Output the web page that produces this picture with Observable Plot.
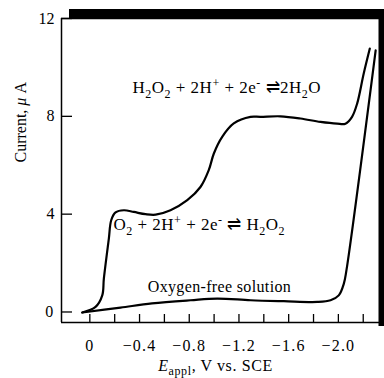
<!DOCTYPE html>
<html><head><meta charset="utf-8">
<script src="https://cdn.jsdelivr.net/npm/d3@7"></script>
<script src="https://cdn.jsdelivr.net/npm/@observablehq/plot@0.6"></script>
<style>
html,body{margin:0;padding:0;background:#fff;}
#chart svg{display:block;}
</style></head><body><div id="chart"></div>
<script>
// Oxygen-saturated solution (V vs. SCE, µA)
const o2E = [0.061, -0.046, -0.10, -0.113, -0.153, -0.172, -0.207, -0.274, -0.354, -0.448, -0.53, -0.649, -0.784, -0.89, -0.957, -0.998, -1.065, -1.158, -1.293, -1.373, -1.534, -1.695, -1.856, -1.99, -2.057, -2.11, -2.151, -2.204, -2.253];
const o2I = [-0.02, 0.21, 0.68, 1.37, 3.0, 3.75, 4.07, 4.16, 4.09, 4.0, 3.98, 4.16, 4.57, 5.11, 5.80, 6.48, 7.16, 7.71, 7.98, 7.98, 8.0, 7.91, 7.77, 7.70, 7.70, 7.98, 8.52, 9.75, 10.77];
// Oxygen-free solution
const freeE = [0.061, -0.247, -0.5, -0.81, -1.025, -1.293, -1.561, -1.83, -1.937, -2.003, -2.044, -2.065, -2.30];
const freeI = [-0.02, 0.18, 0.35, 0.48, 0.55, 0.48, 0.44, 0.41, 0.48, 0.68, 1.16, 1.71, 10.7];

const xTicks = [0, -0.2, -0.4, -0.6, -0.8, -1.0, -1.2, -1.4, -1.6, -1.8, -2.0, -2.2];
const xTickLabels = [0, -0.4, -0.8, -1.2, -1.6, -2.0];
const yTicks = [0, 4, 8, 12];

const labelTexts = ["H_2O_2 + 2H^+ + 2e^- ⇌2H_2O", "O_2 + 2H^+ + 2e^- ⇌ H_2O_2", "Oxygen-free solution"];
const labelE = [-0.343, -0.19, -0.466];
const labelI = [8.94, 3.34, 0.82];

const xTitle = "*E*_{appl}, V vs. SCE";
const yTitle = "Current, *μ* A";

const W = 384, H = 378, mL = 61, mR = 3, mT = 18, mB = 56;
const xDomain = [0.228, -2.347];
const yDomain = [-0.43, 12];
const innerH = H - mT - mB, innerW = W - mL - mR;

const o2 = o2E.map((e, i) => ({E: e, I: o2I[i]}));
const free = freeE.map((e, i) => ({E: e, I: freeI[i]}));
const labels = labelTexts.map((t, i) => ({t, E: labelE[i], I: labelI[i]}));

const font = "'Liberation Serif', 'Times New Roman', serif";

const svg = Plot.plot({
  width: W, height: H,
  marginLeft: mL, marginRight: mR, marginTop: mT, marginBottom: mB,
  style: {fontFamily: font, fontSize: "16px", color: "#000", background: "#fff"},
  x: {domain: xDomain, axis: null},
  y: {domain: yDomain, axis: null},
  marks: [
    Plot.ruleY([yDomain[1]], {stroke: "#000", strokeWidth: 9, dy: -5, insetLeft: 8}),
    Plot.ruleX([xDomain[1]], {stroke: "#000", strokeWidth: 6, insetTop: -9, insetBottom: -4}),
    Plot.ruleX(xTicks, {stroke: "#000", strokeWidth: 1.3, insetTop: innerH - 8}),
    Plot.ruleY(yTicks, {stroke: "#000", strokeWidth: 1.3, insetRight: innerW - 11}),
    Plot.axisX(xTickLabels, {tickSize: 0, tickPadding: 17, label: null, fontSize: 16,
      tickFormat: d => d === 0 ? "0" : "\u2212" + Math.abs(d).toFixed(1)}),
    Plot.axisY(yTicks, {tickSize: 0, tickPadding: 7, label: null, fontSize: 16, tickFormat: d => String(d)}),
    Plot.line(o2, {x: "E", y: "I", curve: "catmull-rom", stroke: "#000", strokeWidth: 2.2}),
    Plot.line(free, {x: "E", y: "I", curve: "catmull-rom", stroke: "#000", strokeWidth: 2.2}),
    Plot.text(labels, {x: "E", y: "I", text: "t", textAnchor: "start", lineAnchor: "bottom", fill: "#000"}),
    Plot.text([xTitle], {frameAnchor: "bottom", dx: -6, dy: 48, lineAnchor: "bottom", fontSize: 16, fill: "#000"}),
    Plot.text([yTitle], {frameAnchor: "left", rotate: -90, dx: -36, dy: -8, lineAnchor: "bottom", fontSize: 16, fill: "#000"}),
    Plot.ruleX([xDomain[0]], {stroke: "#000", strokeWidth: 1.5}),
    Plot.ruleY([yDomain[0]], {stroke: "#000", strokeWidth: 1.5}),
    Plot.ruleY([yDomain[1]], {stroke: "#000", strokeWidth: 1.5})
  ]
});

// per-text sizing
d3.select(svg).selectAll("text").each(function() {
  const s = this.textContent;
  if (s === labelTexts[0] || s === labelTexts[1]) {
    this.setAttribute("font-size", "17"); this.setAttribute("letter-spacing", "0.5");
  } else if (s === labelTexts[2]) {
    this.setAttribute("font-size", "16"); this.setAttribute("letter-spacing", "0.35");
  } else if (s === xTitle) {
    this.setAttribute("letter-spacing", "0.6");
  } else if (/^(0|\u2212\d\.\d)$/.test(s)) {
    this.setAttribute("letter-spacing", "1.2");
  }
});

// rich text: *italic*, _x / _{xx} subscript, ^x superscript
function rich(el) {
  const s = el.textContent;
  if (!/[_^*]/.test(s)) return;
  el.textContent = "";
  let i = 0, italic = false, offset = 0;
  const segs = [];
  while (i < s.length) {
    const c = s[i];
    if (c === "*") { italic = !italic; i++; continue; }
    if (c === "_" || c === "^") {
      let content;
      if (s[i + 1] === "{") { const j = s.indexOf("}", i); content = s.slice(i + 2, j); i = j + 1; }
      else { content = s[i + 1]; i += 2; }
      segs.push({t: content, shift: c === "_" ? "sub" : "sup", italic});
      continue;
    }
    let j = i;
    while (j < s.length && !"*_^".includes(s[j])) j++;
    segs.push({t: s.slice(i, j), shift: null, italic});
    i = j;
  }
  for (const g of segs) {
    const ts = document.createElementNS("http://www.w3.org/2000/svg", "tspan");
    ts.textContent = g.t;
    let target = 0;
    if (g.shift === "sub") { target = 4.5; ts.setAttribute("font-size", "12"); }
    if (g.shift === "sup") { target = -6.5; ts.setAttribute("font-size", "12"); }
    const dy = target - offset;
    if (dy !== 0) ts.setAttribute("dy", dy);
    offset = target;
    if (g.italic) ts.setAttribute("font-style", "italic");
    el.appendChild(ts);
  }
}
d3.select(svg).selectAll("text").each(function() { rich(this); });

document.getElementById("chart").appendChild(svg);
</script>
</body></html>
